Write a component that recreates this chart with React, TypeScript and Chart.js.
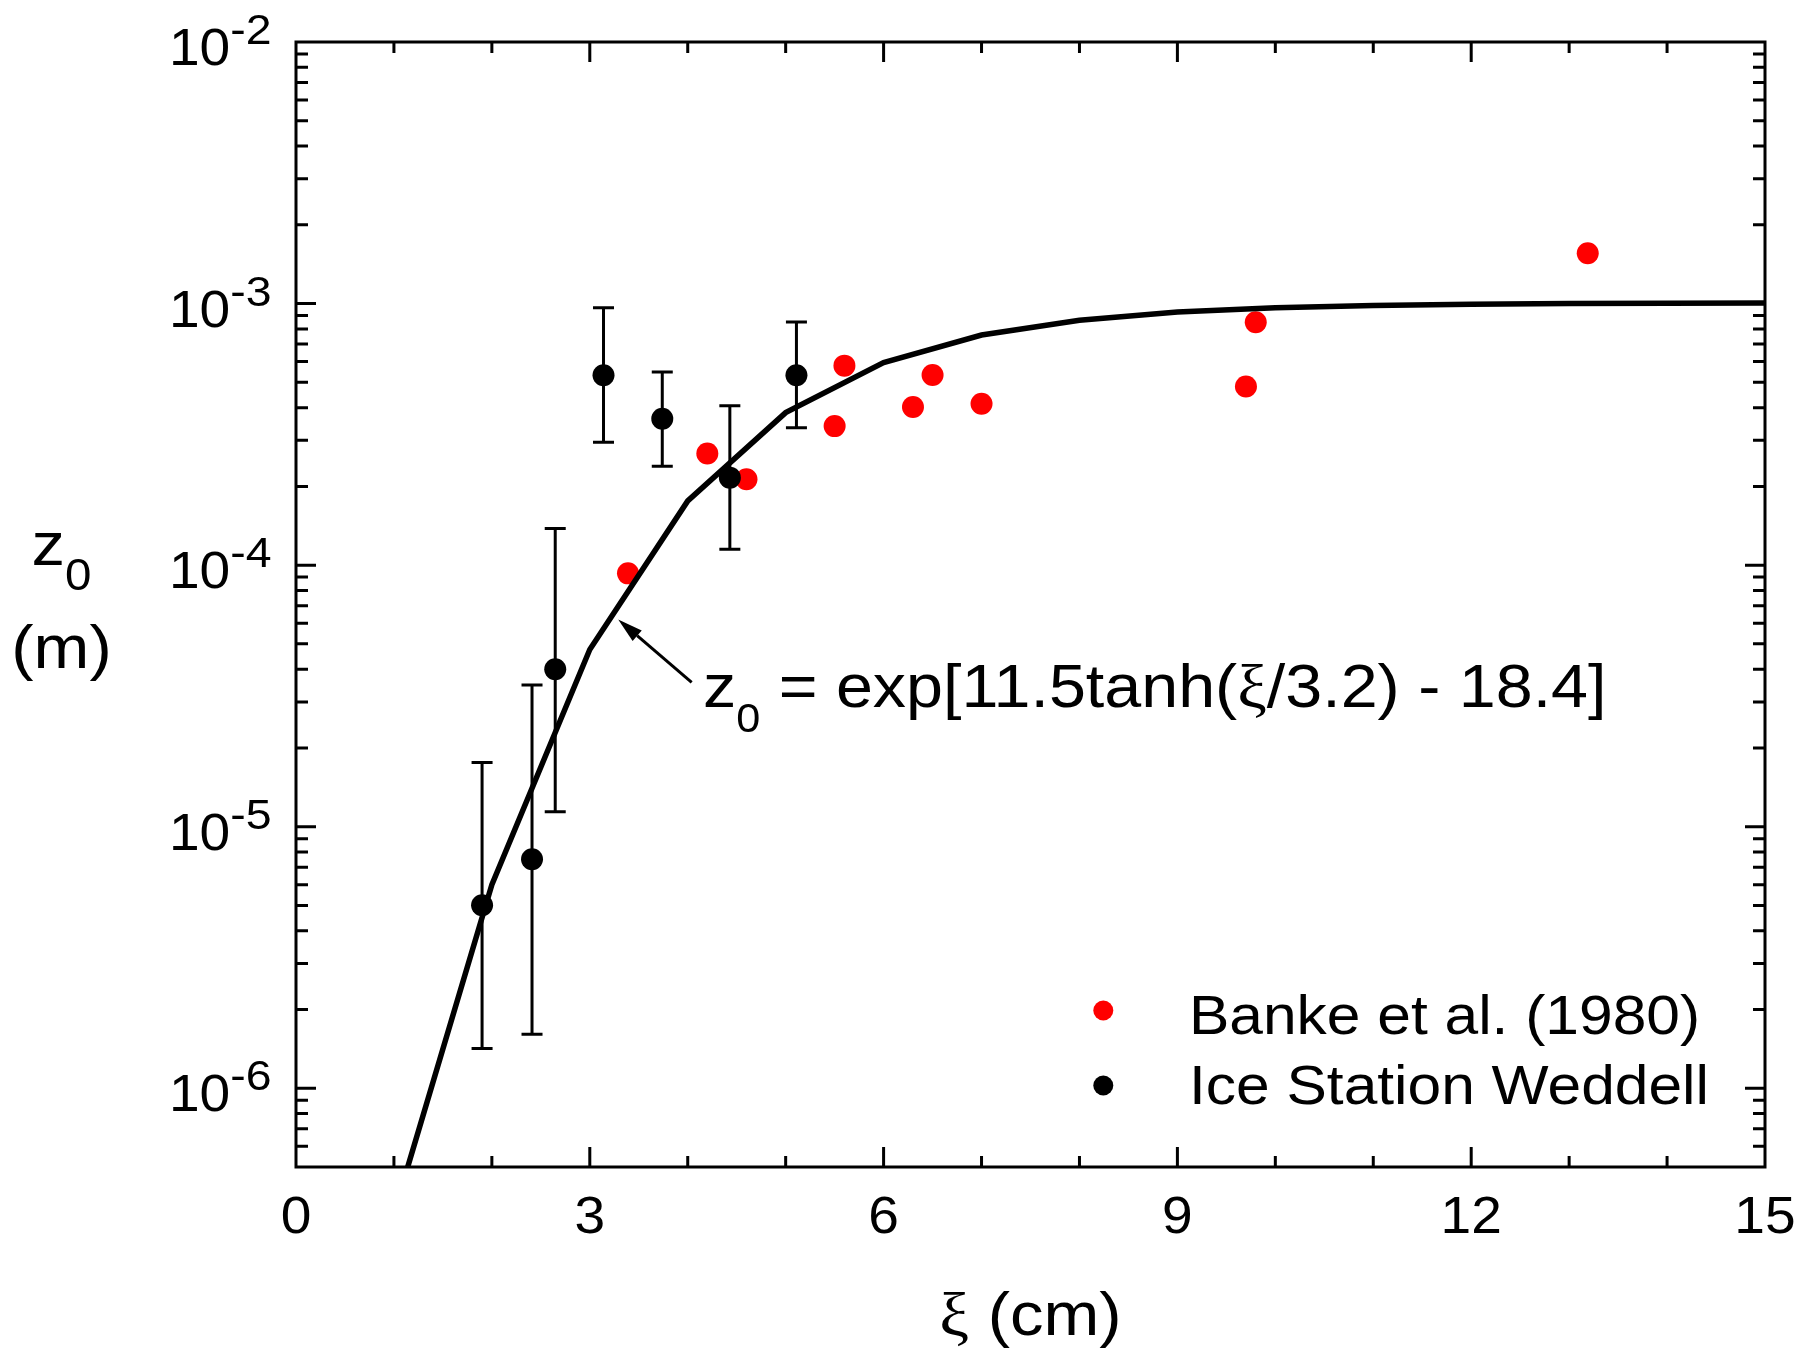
import React, { useEffect, useRef } from "react";
import { Chart, registerables } from "chart.js";

Chart.register(...registerables);

// ---- Data ----
const bankeXi = [3.39, 4.2, 4.6, 5.5, 5.6, 6.3, 6.5, 7.0, 9.7, 9.8, 13.19];
const bankeZ0 = [9.3e-5, 2.67e-4, 2.13e-4, 3.4e-4, 5.79e-4, 4.02e-4, 5.33e-4, 4.14e-4, 4.82e-4, 8.49e-4, 1.556e-3];

const iswXi = [1.9, 2.41, 2.647, 3.14, 3.74, 4.43, 5.11];
const iswZ0 = [5.01e-6, 7.51e-6, 4.0e-5, 5.32e-4, 3.63e-4, 2.16e-4, 5.32e-4];
const iswLow = [1.42e-6, 1.61e-6, 1.14e-5, 2.95e-4, 2.39e-4, 1.15e-4, 3.35e-4];
const iswHigh = [1.76e-5, 3.48e-5, 1.38e-4, 9.63e-4, 5.48e-4, 4.07e-4, 8.51e-4];

const fitXi = [1, 2, 3, 4, 5, 6, 7, 8, 9, 10, 11, 12, 13, 14, 15];
const fitZ0 = [3.33e-7, 6.0e-6, 4.76e-5, 1.76e-4, 3.83e-4, 5.95e-4, 7.58e-4, 8.64e-4, 9.28e-4, 9.64e-4, 9.84e-4, 9.94e-4, 1.0e-3, 1.003e-3, 1.005e-3];

const xTickLabels = [0, 3, 6, 9, 12, 15];
const yDecadeExponents = [-2, -3, -4, -5, -6];

const legendLabels = ["Banke et al. (1980)", "Ice Station Weddell"];
const annotationParts = ["z", "0", " = exp[11.5tanh(", "\u03BE", "/3.2) - 18.4]"];
const arrowTip = { x: 3.29, y: 6.2e-5 };
const arrowTail = { x: 4.04, y: 3.56e-5 };

// ---- Styling ----
const SX = 1.08;
const SANS = '"Liberation Sans", Arial, sans-serif';
const SERIF = '"Liberation Serif", "Times New Roman", serif';
const RED = "#ff0000";
const BLACK = "#000000";

type Run = { t: string; size: number; fam?: string; dy?: number };

function runsWidth(ctx: CanvasRenderingContext2D, runs: Run[]) {
  let w = 0;
  for (const r of runs) {
    ctx.font = `${r.size}px ${r.fam || SANS}`;
    w += ctx.measureText(r.t).width * SX;
  }
  return w;
}

function drawRuns(
  ctx: CanvasRenderingContext2D,
  runs: Run[],
  x: number,
  y: number,
  align: "left" | "center" | "right"
) {
  const w = runsWidth(ctx, runs);
  let cx = align === "left" ? x : align === "center" ? x - w / 2 : x - w;
  for (const r of runs) {
    ctx.font = `${r.size}px ${r.fam || SANS}`;
    const rw = ctx.measureText(r.t).width * SX;
    ctx.save();
    ctx.translate(cx, y + (r.dy || 0));
    ctx.scale(SX, 1);
    ctx.textAlign = "left";
    ctx.textBaseline = "alphabetic";
    ctx.fillStyle = BLACK;
    ctx.fillText(r.t, 0, 0);
    ctx.restore();
    cx += rw;
  }
}

const decorPlugin = {
  id: "decor",
  beforeDatasetsDraw(chart: any) {
    const ctx: CanvasRenderingContext2D = chart.ctx;
    const xs = chart.scales.x;
    const ys = chart.scales.y;
    ctx.save();
    ctx.strokeStyle = BLACK;
    ctx.lineWidth = 3;
    const cap = 10.5;
    for (let i = 0; i < iswXi.length; i++) {
      const px = xs.getPixelForValue(iswXi[i]);
      const pLo = ys.getPixelForValue(iswLow[i]);
      const pHi = ys.getPixelForValue(iswHigh[i]);
      ctx.beginPath();
      ctx.moveTo(px, pLo);
      ctx.lineTo(px, pHi);
      ctx.moveTo(px - cap, pLo);
      ctx.lineTo(px + cap, pLo);
      ctx.moveTo(px - cap, pHi);
      ctx.lineTo(px + cap, pHi);
      ctx.stroke();
    }
    ctx.restore();
  },
  afterDatasetsDraw(chart: any) {
    const ctx: CanvasRenderingContext2D = chart.ctx;
    const xs = chart.scales.x;
    const ys = chart.scales.y;
    const { left, right, top, bottom } = chart.chartArea;
    ctx.save();
    ctx.strokeStyle = BLACK;
    ctx.lineWidth = 3;
    ctx.lineCap = "butt";
    // frame
    ctx.strokeRect(left, top, right - left, bottom - top);
    // x ticks (inward, both top and bottom)
    ctx.beginPath();
    for (let v = 1; v < 15; v++) {
      const px = xs.getPixelForValue(v);
      const len = v % 3 === 0 ? 20 : 11;
      ctx.moveTo(px, bottom);
      ctx.lineTo(px, bottom - len);
      ctx.moveTo(px, top);
      ctx.lineTo(px, top + len);
    }
    // y ticks (inward, both left and right)
    for (let d = -7; d <= -2; d++) {
      for (let m = 1; m <= 9; m++) {
        const v = m * Math.pow(10, d);
        if (v < 5e-7 * 1.0001 || v > 1e-2 * 0.9999) continue;
        const py = ys.getPixelForValue(v);
        const len = m === 1 ? 20 : 12;
        ctx.moveTo(left, py);
        ctx.lineTo(left + len, py);
        ctx.moveTo(right, py);
        ctx.lineTo(right - len, py);
      }
    }
    ctx.stroke();

    // arrow annotation
    const tx = xs.getPixelForValue(arrowTip.x);
    const ty = ys.getPixelForValue(arrowTip.y);
    const sx = xs.getPixelForValue(arrowTail.x);
    const sy = ys.getPixelForValue(arrowTail.y);
    const ang = Math.atan2(ty - sy, tx - sx);
    const headLen = 25;
    const headW = 7;
    const bx = tx - headLen * Math.cos(ang);
    const by = ty - headLen * Math.sin(ang);
    ctx.lineWidth = 3;
    ctx.beginPath();
    ctx.moveTo(sx, sy);
    ctx.lineTo(bx, by);
    ctx.stroke();
    ctx.fillStyle = BLACK;
    ctx.beginPath();
    ctx.moveTo(tx, ty);
    ctx.lineTo(bx + headW * Math.sin(ang), by - headW * Math.cos(ang));
    ctx.lineTo(bx - headW * Math.sin(ang), by + headW * Math.cos(ang));
    ctx.closePath();
    ctx.fill();
    ctx.restore();

    // x tick labels
    for (const v of xTickLabels) {
      drawRuns(ctx, [{ t: String(v), size: 51 }], xs.getPixelForValue(v), 1233, "center");
    }
    // y tick labels 10^n
    for (const e of yDecadeExponents) {
      const py = ys.getPixelForValue(Math.pow(10, e));
      const sup: Run[] = [{ t: "-" + Math.abs(e), size: 43 }];
      const supW = runsWidth(ctx, sup);
      const supX = 271.5 - supW;
      drawRuns(ctx, sup, supX, py + 2, "left");
      drawRuns(ctx, [{ t: "10", size: 51 }], supX, py + 23, "right");
    }
    // axis titles
    drawRuns(
      ctx,
      [
        { t: "\u03BE", size: 62, fam: SERIF },
        { t: " (cm)", size: 62 },
      ],
      1030.5,
      1335,
      "center"
    );
    drawRuns(
      ctx,
      [
        { t: "z", size: 62 },
        { t: "0", size: 44, dy: 25 },
      ],
      61.5,
      565,
      "center"
    );
    drawRuns(ctx, [{ t: "(m)", size: 62 }], 61.5, 668, "center");

    // equation annotation
    drawRuns(
      ctx,
      [
        { t: annotationParts[0], size: 61.5 },
        { t: annotationParts[1], size: 40, dy: 25 },
        { t: annotationParts[2], size: 61.5 },
        { t: annotationParts[3], size: 61.5, fam: SERIF },
        { t: annotationParts[4], size: 61.5 },
      ],
      703,
      706.7,
      "left"
    );

    // legend
    const legColors = [RED, BLACK];
    const legY = [1010.5, 1085.5];
    const legBase = [1034, 1104];
    for (let i = 0; i < legendLabels.length; i++) {
      ctx.save();
      ctx.fillStyle = legColors[i];
      ctx.beginPath();
      ctx.arc(1103.3, legY[i], 10, 0, Math.PI * 2);
      ctx.fill();
      ctx.restore();
      drawRuns(ctx, [{ t: legendLabels[i], size: 56 }], 1189, legBase[i], "left");
    }
  },
};

export default function App() {
  const canvasRef = useRef<HTMLCanvasElement | null>(null);

  useEffect(() => {
    const canvas = canvasRef.current;
    if (!canvas) return;
    const chart = new Chart(canvas, {
      type: "scatter",
      data: {
        datasets: [
          {
            type: "scatter",
            label: legendLabels[1],
            data: iswXi.map((x, i) => ({ x, y: iswZ0[i] })),
            backgroundColor: BLACK,
            borderColor: BLACK,
            borderWidth: 0,
            pointRadius: 11,
            order: 0,
          } as any,
          {
            type: "line",
            label: "fit",
            data: fitXi.map((x, i) => ({ x, y: fitZ0[i] })),
            borderColor: BLACK,
            backgroundColor: BLACK,
            borderWidth: 5.5,
            pointRadius: 0,
            fill: false,
            tension: 0,
            order: 1,
          } as any,
          {
            type: "scatter",
            label: legendLabels[0],
            data: bankeXi.map((x, i) => ({ x, y: bankeZ0[i] })),
            backgroundColor: RED,
            borderColor: RED,
            borderWidth: 0,
            pointRadius: 11,
            order: 2,
          } as any,
        ],
      },
      options: {
        responsive: false,
        animation: false,
        devicePixelRatio: 1,
        events: [],
        layout: { padding: { left: 296, top: 42, right: 35, bottom: 186 } },
        scales: {
          x: { type: "linear", min: 0, max: 15, display: false },
          y: { type: "logarithmic", min: 5e-7, max: 1e-2, display: false },
        },
        plugins: {
          legend: { display: false },
          tooltip: { enabled: false },
        },
      } as any,
      plugins: [decorPlugin as any],
    });
    return () => chart.destroy();
  }, []);

  return (
    <div
      style={{
        position: "fixed",
        left: 0,
        top: 0,
        width: 1800,
        height: 1353,
        background: "#ffffff",
        overflow: "hidden",
      }}
    >
      <canvas ref={canvasRef} width={1800} height={1353} style={{ display: "block" }} />
    </div>
  );
}
